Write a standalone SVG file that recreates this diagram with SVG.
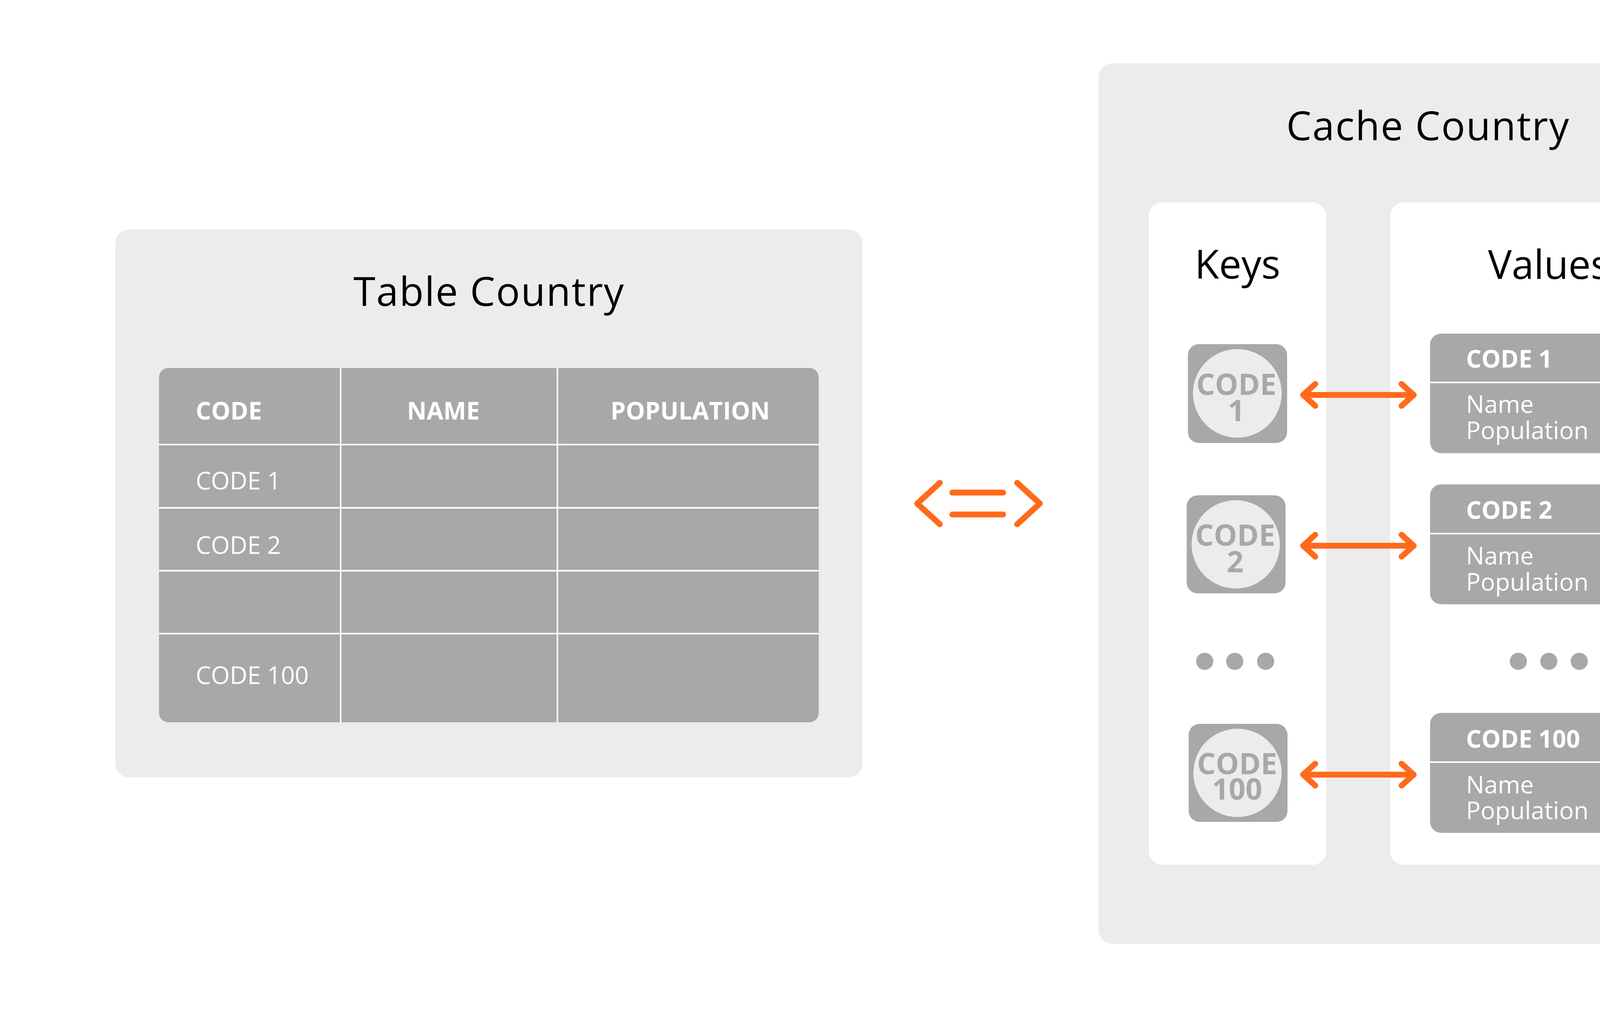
<svg xmlns="http://www.w3.org/2000/svg" width="4795" height="2606" viewBox="0 0 4795 2606">
<style>
.panel{fill:#ECECEC}
.inner{fill:#FFFFFF}
.gray{fill:#A8A8A8}
.disc{fill:#ECECEC}
.t{font-family:"Open Sans","Liberation Sans",sans-serif}
.title{font-size:102px;fill:#000000;text-anchor:middle}
.wide{letter-spacing:2.3px}
.hdr{font-size:62px;font-weight:bold;fill:#FFFFFF}
.cell{font-size:62px;fill:#FFFFFF}
.mid{text-anchor:middle}
.keytxt{font-size:75px;font-weight:bold;fill:#A8A8A8;text-anchor:middle}
.sep{stroke:#FFFFFF;stroke-width:4;fill:none}
.arrow{stroke:#FF6A1A;stroke-width:15;fill:none;stroke-linecap:round;stroke-linejoin:round}
</style>
<rect width="4795" height="2606" fill="#FFFFFF"/>

<g id="table-country">
  <rect class="panel" x="295" y="587" width="1913" height="1403" rx="36"/>
  <text class="t title wide" x="1252" y="783">Table Country</text>
  <rect class="gray" x="407" y="942" width="1689" height="907" rx="24"/>
  <line class="sep" x1="872" y1="942" x2="872" y2="1849"/>
  <line class="sep" x1="1427" y1="942" x2="1427" y2="1849"/>
  <line class="sep" x1="407" y1="1138" x2="2096" y2="1138"/>
  <line class="sep" x1="407" y1="1300" x2="2096" y2="1300"/>
  <line class="sep" x1="407" y1="1461" x2="2096" y2="1461"/>
  <line class="sep" x1="407" y1="1622" x2="2096" y2="1622"/>
  <text class="t hdr" x="501" y="1074">CODE</text>
  <text class="t hdr mid" x="1135" y="1074">NAME</text>
  <text class="t hdr mid" x="1767" y="1074">POPULATION</text>
  <text class="t cell" x="501" y="1253">CODE 1</text>
  <text class="t cell" x="501" y="1418">CODE 2</text>
  <text class="t cell" x="501" y="1751">CODE 100</text>
</g>

<g id="sync-symbol">
  <polyline class="arrow" points="2406,1236 2348,1289 2406,1342"/>
  <line class="arrow" x1="2438" y1="1261" x2="2568" y2="1261"/>
  <line class="arrow" x1="2438" y1="1317" x2="2568" y2="1317"/>
  <polyline class="arrow" points="2604,1236 2662,1289 2604,1342"/>
</g>

<g id="cache-country">
  <rect class="panel" x="2812" y="162" width="1687" height="2254" rx="37"/>
  <text class="t title wide" x="3656" y="359">Cache Country</text>
</g>

<g id="keys">
  <rect class="inner" x="2941" y="518" width="454" height="1696" rx="35"/>
  <text class="t title" x="3168" y="713">Keys</text>
  <circle class="gray" cx="3084" cy="1693" r="22"/>
  <circle class="gray" cx="3161" cy="1693" r="22"/>
  <circle class="gray" cx="3240" cy="1693" r="22"/>
</g>

<g id="values">
  <rect class="inner" x="3559" y="518" width="813" height="1696" rx="35"/>
  <text class="t title" x="3965" y="714">Values</text>
  <circle class="gray" cx="3887" cy="1693" r="22"/>
  <circle class="gray" cx="3965" cy="1693" r="22"/>
  <circle class="gray" cx="4043" cy="1693" r="22"/>
</g>

<g id="key-code1">
  <rect class="gray" x="3041" y="881" width="254" height="253" rx="28"/>
  <circle class="disc" cx="3167.5" cy="1007" r="113.5"/>
  <text class="t keytxt"><tspan x="3165" y="1011">CODE</tspan><tspan x="3165" y="1078">1</tspan></text>
</g>

<g id="key-code2">
  <rect class="gray" x="3038" y="1268" width="253" height="251" rx="28"/>
  <circle class="disc" cx="3163.5" cy="1393.5" r="113"/>
  <text class="t keytxt"><tspan x="3162" y="1397">CODE</tspan><tspan x="3162" y="1465">2</tspan></text>
</g>

<g id="key-code100">
  <rect class="gray" x="3043" y="1853" width="253" height="251" rx="28"/>
  <circle class="disc" cx="3168" cy="1978.5" r="113"/>
  <text class="t keytxt"><tspan x="3167" y="1982">CODE</tspan><tspan x="3167" y="2047">100</tspan></text>
</g>

<g id="value-code1">
  <rect class="gray" x="3661" y="854" width="610" height="306" rx="28"/>
  <line class="sep" x1="3661" y1="979" x2="4271" y2="979"/>
  <text class="t hdr" x="3753" y="941">CODE 1</text>
  <text class="t cell"><tspan x="3753" y="1057">Name</tspan><tspan x="3753" y="1124">Population</tspan></text>
</g>

<g id="value-code2">
  <rect class="gray" x="3661" y="1240" width="610" height="307" rx="28"/>
  <line class="sep" x1="3661" y1="1366" x2="4271" y2="1366"/>
  <text class="t hdr" x="3753" y="1328">CODE 2</text>
  <text class="t cell"><tspan x="3753" y="1445">Name</tspan><tspan x="3753" y="1512">Population</tspan></text>
</g>

<g id="value-code100">
  <rect class="gray" x="3661" y="1825" width="610" height="307" rx="28"/>
  <line class="sep" x1="3661" y1="1951" x2="4271" y2="1951"/>
  <text class="t hdr" x="3753" y="1914">CODE 100</text>
  <text class="t cell"><tspan x="3753" y="2031">Name</tspan><tspan x="3753" y="2097">Population</tspan></text>
</g>

<g id="connectors">
  <line class="arrow" x1="3336" y1="1011" x2="3619" y2="1011"/>
  <polyline class="arrow" points="3367,983 3336,1011 3367,1039"/>
  <polyline class="arrow" points="3588,983 3619,1011 3588,1039"/>
  <line class="arrow" x1="3336" y1="1397" x2="3619" y2="1397"/>
  <polyline class="arrow" points="3367,1369 3336,1397 3367,1425"/>
  <polyline class="arrow" points="3588,1369 3619,1397 3588,1425"/>
  <line class="arrow" x1="3336" y1="1983" x2="3619" y2="1983"/>
  <polyline class="arrow" points="3367,1955 3336,1983 3367,2011"/>
  <polyline class="arrow" points="3588,1955 3619,1983 3588,2011"/>
</g>
</svg>
